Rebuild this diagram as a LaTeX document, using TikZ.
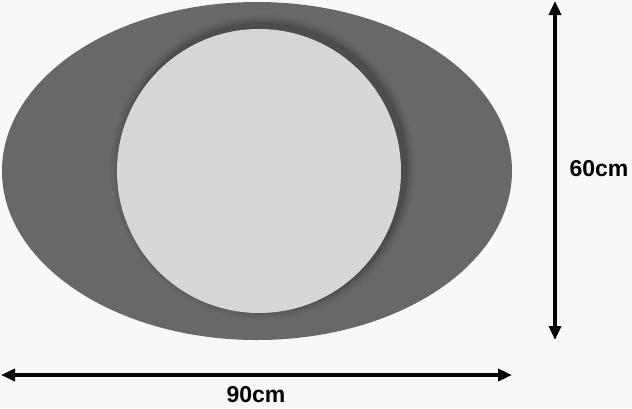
\documentclass[tikz,border=0pt]{standalone}
\usepackage{fontspec}
\setmainfont{Liberation Sans}
\usetikzlibrary{arrows.meta}
\definecolor{bgc}{HTML}{F8F8F8}
\definecolor{plate}{HTML}{686868}
\definecolor{mirror}{HTML}{D6D6D6}
\tikzset{
  dimline/.style={line width=4pt,{Triangle[length=14pt,width=12pt]}-{Triangle[length=14pt,width=12pt]}},
  dimlabel/.style={font=\bfseries\fontsize{23}{23}\selectfont,inner sep=0pt}
}
\begin{document}
\begin{tikzpicture}[x=1pt,y=-1pt]
\fill[bgc] (0,0) rectangle (632,408);
\useasboundingbox (0,0) rectangle (632,408);
% plate
\fill[plate] (257,171) ellipse [x radius=255, y radius=169];
% shadow
\foreach \r/\o in {152/0.03,150/0.04,148/0.05,146/0.07,144.5/0.08}{
  \fill[black,opacity=\o] (263,167) circle (\r);
}
% mirror
\fill[mirror] (259,171) circle (142);
% dimension lines
\coordinate (vt) at (555,1);
\coordinate (vb) at (555,340);
\coordinate (hl) at (1,375);
\coordinate (hr) at (512,375);
\draw[dimline] (vt) -- (vb);
\draw[dimline] (hl) -- (hr);
\node[dimlabel] (h) at (599,169) {60cm};
\node[dimlabel] (w) at (256,395) {90cm};
\end{tikzpicture}
\end{document}
